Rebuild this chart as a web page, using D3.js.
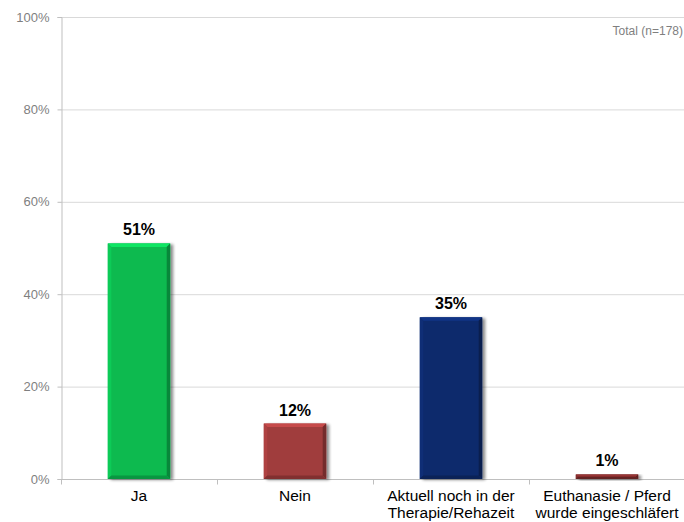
<!DOCTYPE html>
<html>
<head>
<meta charset="utf-8">
<script src="https://cdn.jsdelivr.net/npm/d3@7"></script>
<style>
  html, body { margin: 0; padding: 0; background: #fff; overflow: hidden; }
  svg { display: block; font-family: "Liberation Sans", Arial, sans-serif; }
</style>
</head>
<body>
<svg id="chart" width="684" height="522"></svg>
<script>
// Answer categories (two-line labels split on "|")
const categories = ["Ja", "Nein", "Aktuell noch in der|Therapie/Rehazeit", "Euthanasie / Pferd|wurde eingeschläfert"];
// Share of respondents in percent
const values = [51, 12, 35, 1];
// Bar fill colours
const barColors = ["#0bba50", "#a03c3c", "#0e2a6c", "#7b2b2b"];
// Y axis ticks
const yTicks = [0, 20, 40, 60, 80, 100];
const totalNote = "Total (n=178)";

const W = 684, H = 522;
const margin = { top: 17, right: -1, bottom: 43, left: 61 };
const svg = d3.select("#chart");

const x = d3.scaleBand()
  .domain(categories)
  .range([margin.left, W - margin.right])
  .paddingInner(0.6)
  .paddingOuter(0.3);

const y = d3.scaleLinear()
  .domain([0, 100])
  .range([H - margin.bottom, margin.top]);

// Horizontal gridlines
svg.append("g")
  .selectAll("line")
  .data(yTicks.filter(d => d > 0))
  .join("line")
  .attr("x1", margin.left)
  .attr("x2", W)
  .attr("y1", d => y(d) + 0.5)
  .attr("y2", d => y(d) + 0.5)
  .attr("stroke", "#d9d9d9")
  .attr("stroke-width", 1);

// Y axis
const yAxis = svg.append("g")
  .attr("transform", `translate(${margin.left + 0.5},0)`)
  .call(d3.axisLeft(y).tickValues(yTicks).tickFormat(d => d + "%").tickSize(4).tickPadding(8));
yAxis.select(".domain").attr("stroke", "#bfbfbf");
yAxis.selectAll(".tick line").attr("stroke", "#bfbfbf");
yAxis.selectAll(".tick text")
  .attr("fill", "#7f7f7f")
  .style("font-size", "13px")
  .style("font-family", "'Liberation Sans', Arial, sans-serif");

// X axis baseline with ticks at category boundaries
const baseY = y(0) + 0.5;
svg.append("line")
  .attr("x1", margin.left).attr("x2", W)
  .attr("y1", baseY).attr("y2", baseY)
  .attr("stroke", "#bfbfbf");

const bounds = d3.range(categories.length + 1).map(i => margin.left + i * (W - margin.right - margin.left) / categories.length);
svg.append("g")
  .selectAll("line")
  .data(bounds)
  .join("line")
  .attr("x1", d => Math.round(d) + 0.5)
  .attr("x2", d => Math.round(d) + 0.5)
  .attr("y1", baseY)
  .attr("y2", baseY + 5)
  .attr("stroke", "#bfbfbf");

// Drop shadow filter
const defs = svg.append("defs");
const f = defs.append("filter").attr("id", "shadow").attr("x", "-20%").attr("y", "-20%").attr("width", "150%").attr("height", "150%");
f.append("feGaussianBlur").attr("in", "SourceAlpha").attr("stdDeviation", 1.6).attr("result", "b");
f.append("feOffset").attr("in", "b").attr("dx", 2.5).attr("dy", 1).attr("result", "o");
f.append("feComponentTransfer").attr("in", "o").attr("result", "s")
  .append("feFuncA").attr("type", "linear").attr("slope", 0.45);
const fm = f.append("feMerge");
fm.append("feMergeNode").attr("in", "s");
fm.append("feMergeNode").attr("in", "SourceGraphic");

// Bars with a bevelled edge
const bars = svg.append("g")
  .selectAll("g")
  .data(categories.map((c, i) => ({ c, v: values[i], col: barColors[i] })))
  .join("g");

bars.each(function(d) {
  const g = d3.select(this);
  const x0 = x(d.c), x1 = x0 + x.bandwidth();
  const y0 = y(d.v), y1 = y(0);
  const h = y1 - y0;
  const bev = Math.min(3.5, h / 2);
  const base = d3.color(d.col);

  g.append("rect")
    .attr("x", x0).attr("y", y0)
    .attr("width", x1 - x0).attr("height", h)
    .attr("fill", d.col)
    .attr("filter", "url(#shadow)");

  const poly = (pts, fill) => g.append("polygon")
    .attr("points", pts.map(p => p.join(",")).join(" "))
    .attr("fill", fill);

  // top highlight
  poly([[x0, y0], [x1, y0], [x1 - bev, y0 + bev], [x0 + bev, y0 + bev]], base.brighter(0.6).formatHex());
  // left light edge
  poly([[x0, y0], [x0 + bev, y0 + bev], [x0 + bev, y1 - bev], [x0, y1]], base.brighter(0.25).formatHex());
  // right dark edge
  poly([[x1, y0], [x1, y1], [x1 - bev, y1 - bev], [x1 - bev, y0 + bev]], base.darker(0.9).formatHex());
  // bottom dark edge
  poly([[x0, y1], [x1, y1], [x1 - bev, y1 - bev], [x0 + bev, y1 - bev]], base.darker(0.6).formatHex());
});

// Value labels
svg.append("g")
  .selectAll("text")
  .data(categories.map((c, i) => ({ c, v: values[i] })))
  .join("text")
  .attr("x", d => x(d.c) + x.bandwidth() / 2)
  .attr("y", d => y(d.v) - 8)
  .attr("text-anchor", "middle")
  .attr("font-size", "16px")
  .attr("font-weight", "bold")
  .attr("fill", "#000")
  .text(d => d.v + "%");

// Category labels
const cat = svg.append("g")
  .selectAll("text")
  .data(categories)
  .join("text")
  .attr("x", d => x(d) + x.bandwidth() / 2)
  .attr("y", y(0) + 22)
  .attr("text-anchor", "middle")
  .attr("font-size", "15.5px")
  .attr("fill", "#000");
cat.each(function(d) {
  const lines = d.split("|");
  const t = d3.select(this);
  lines.forEach((ln, i) => {
    t.append("tspan")
      .attr("x", x(d) + x.bandwidth() / 2)
      .attr("dy", i === 0 ? 0 : 17)
      .text(ln);
  });
});

// Sample size note
svg.append("text")
  .attr("x", 683)
  .attr("y", 35)
  .attr("text-anchor", "end")
  .attr("font-size", "12px")
  .attr("fill", "#7f7f7f")
  .text(totalNote);
</script>
</body>
</html>
